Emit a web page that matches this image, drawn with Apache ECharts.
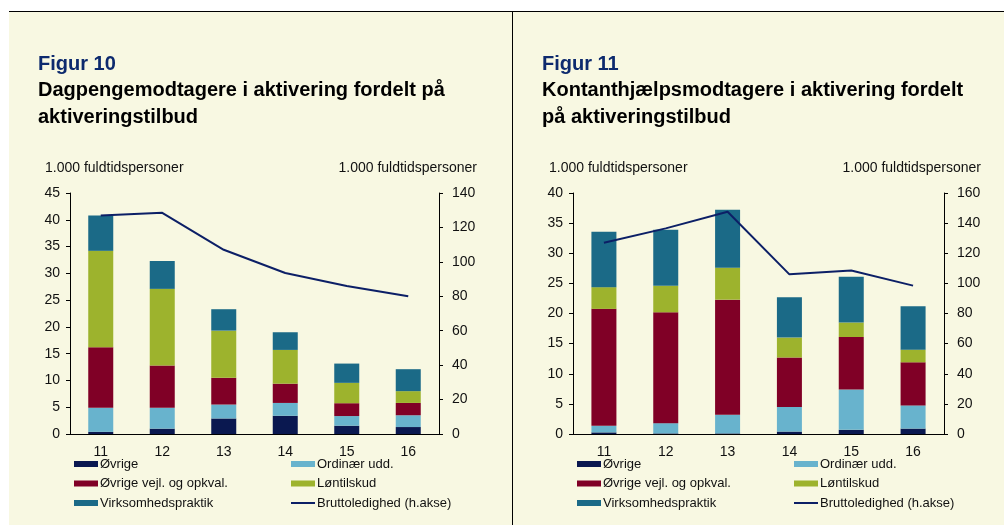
<!DOCTYPE html>
<html lang="da">
<head>
    <meta charset="UTF-8">
    <title>Figur 10 og 11</title>
    <script src="https://cdn.jsdelivr.net/npm/echarts@6/dist/echarts.min.js"></script>
    <style>
        body { margin: 0; background: #fff; }
        .frame { position: absolute; left: 9px; top: 11px; width: 995px; height: 514px;
                 background: #f8f8e2; border-top: 1px solid #000; }
        .divider { position: absolute; left: 512px; top: 11px; width: 1px; height: 514px; background: #000; }
        #chart { position: absolute; left: 0; top: 0; width: 1004px; height: 525px; }
    </style>
</head>
<body>
    <div class="frame"></div>
    <div class="divider"></div>
    <div id="chart"></div>
    <script>
        // år
        var years = ['11', '12', '13', '14', '15', '16'];

        // Figur 10 - dagpengemodtagere (1.000 fuldtidspersoner)
        var f10Ovrige = [0.4, 1.0, 2.9, 3.4, 1.55, 1.3];
        var f10Ordinaer = [4.5, 3.9, 2.6, 2.4, 1.8, 2.2];
        var f10Vejl = [11.3, 7.9, 5.0, 3.6, 2.4, 2.3];
        var f10Lon = [18.0, 14.3, 8.8, 6.3, 3.8, 2.2];
        var f10Virk = [6.6, 5.2, 4.0, 3.3, 3.6, 4.1];
        var f10Brutto = [127, 128.5, 107, 93.5, 86, 80];

        // Figur 11 - kontanthjælpsmodtagere
        var f11Ovrige = [0.27, 0.1, 0.1, 0.4, 0.7, 0.9];
        var f11Ordinaer = [1.1, 1.7, 3.1, 4.1, 6.7, 3.85];
        var f11Vejl = [19.4, 18.4, 19.1, 8.2, 8.7, 7.15];
        var f11Lon = [3.6, 4.4, 5.3, 3.3, 2.4, 2.1];
        var f11Virk = [9.2, 9.3, 9.6, 6.7, 7.6, 7.2];
        var f11Brutto = [127, 136.5, 147.5, 106, 108.5, 98.5];

        var names = ['Øvrige', 'Ordinær udd.', 'Øvrige vejl. og opkval.', 'Løntilskud', 'Virksomhedspraktik', 'Bruttoledighed (h.akse)'];
        var colors = ['#0a1850', '#68b3cd', '#800026', '#9db32d', '#1b6a87'];
        var lineColor = '#0c1f66';
        var font = 'Liberation Sans, Arial, sans-serif';
        // tynd streg som legend-ikon for linjen (små hjørnepunkter holder 24x6 boksen)
        var lineIcon = 'path://M0,0L0.01,0L0.01,0.01Z M0,2.1L24,2.1L24,3.9L0,3.9Z M23.99,5.99L24,5.99L24,6Z';

        var myChart = echarts.init(document.getElementById('chart'));

        function yAxes(gi, maxL, intL, maxR, intR) {
            var base = {
                gridIndex: gi, type: 'value', min: 0,
                splitLine: { show: false },
                axisLine: { show: true, lineStyle: { color: '#000' } },
                axisTick: { show: true, length: 4, lineStyle: { color: '#000' } },
                axisLabel: { color: '#111', fontSize: 14, fontFamily: font }
            };
            return [
                Object.assign({}, base, { position: 'left', max: maxL, interval: intL,
                    axisLabel: Object.assign({}, base.axisLabel, { margin: 10 }) }),
                Object.assign({}, base, { position: 'right', max: maxR, interval: intR,
                    axisLabel: Object.assign({}, base.axisLabel, { margin: 13 }) })
            ];
        }

        function chartSeries(gi, data) {
            var out = [];
            for (var i = 0; i < 5; i++) {
                out.push({
                    name: names[i], type: 'bar', stack: 'akt' + gi,
                    xAxisIndex: gi, yAxisIndex: gi * 2,
                    barWidth: 25,
                    itemStyle: { color: colors[i] },
                    data: data[i]
                });
            }
            out.push({
                name: names[5], type: 'line',
                xAxisIndex: gi, yAxisIndex: gi * 2 + 1,
                symbol: 'none', z: 5,
                lineStyle: { color: lineColor, width: 2 },
                itemStyle: { color: lineColor },
                data: data[5]
            });
            return out;
        }

        function legend(left, items) {
            return {
                orient: 'vertical', left: left, top: 457, padding: 0,
                itemWidth: 24, itemHeight: 6, itemGap: 5.5,
                selectedMode: false,
                textStyle: { color: '#111', fontSize: 13, fontFamily: font, lineHeight: 14, padding: [0, 0, 0, -3] },
                data: items.map(function (n) {
                    return { name: n, icon: n === names[5] ? lineIcon : 'rect' };
                })
            };
        }

        var xBase = {
            type: 'category', data: years,
            axisLine: { lineStyle: { color: '#000' } },
            axisTick: { length: 5, lineStyle: { color: '#000' } },
            axisLabel: { color: '#111', fontSize: 14, fontFamily: font, margin: 11 }
        };

        var titleStyle = { color: '#000', fontSize: 20, fontWeight: 'bold', fontFamily: font, lineHeight: 27 };
        var figStyle = { color: '#0d2a6e', fontSize: 20, fontWeight: 'bold', fontFamily: font };
        var nameStyle = { fill: '#111', fontSize: 14, fontFamily: font };

        var option = {
            animation: false,
            title: [
                { text: 'Figur 10', left: 38, top: 54, padding: 0, textStyle: figStyle },
                { text: 'Dagpengemodtagere i aktivering fordelt på\naktiveringstilbud', left: 38, top: 77, padding: 0, textStyle: titleStyle },
                { text: 'Figur 11', left: 542, top: 54, padding: 0, textStyle: figStyle },
                { text: 'Kontanthjælpsmodtagere i aktivering fordelt\npå aktiveringstilbud', left: 542, top: 77, padding: 0, textStyle: titleStyle }
            ],
            graphic: [
                { type: 'text', left: 45, top: 161, style: Object.assign({ text: '1.000 fuldtidspersoner' }, nameStyle) },
                { type: 'text', right: 1004 - 477, top: 161, style: Object.assign({ text: '1.000 fuldtidspersoner' }, nameStyle) },
                { type: 'text', left: 549, top: 161, style: Object.assign({ text: '1.000 fuldtidspersoner' }, nameStyle) },
                { type: 'text', right: 1004 - 981, top: 161, style: Object.assign({ text: '1.000 fuldtidspersoner' }, nameStyle) }
            ],
            legend: [
                legend(74, [names[0], names[2], names[4]]),
                legend(291, [names[1], names[3], names[5]]),
                legend(577, [names[0], names[2], names[4]]),
                legend(794, [names[1], names[3], names[5]])
            ],
            grid: [
                { left: 70, top: 193, width: 369, height: 241 },
                { left: 573, top: 193, width: 371, height: 241 }
            ],
            xAxis: [
                Object.assign({ gridIndex: 0 }, xBase),
                Object.assign({ gridIndex: 1 }, xBase)
            ],
            yAxis: yAxes(0, 45, 5, 140, 20).concat(yAxes(1, 40, 5, 160, 20)),
            series: chartSeries(0, [f10Ovrige, f10Ordinaer, f10Vejl, f10Lon, f10Virk, f10Brutto])
                .concat(chartSeries(1, [f11Ovrige, f11Ordinaer, f11Vejl, f11Lon, f11Virk, f11Brutto]))
        };

        myChart.setOption(option);
    </script>
</body>
</html>
